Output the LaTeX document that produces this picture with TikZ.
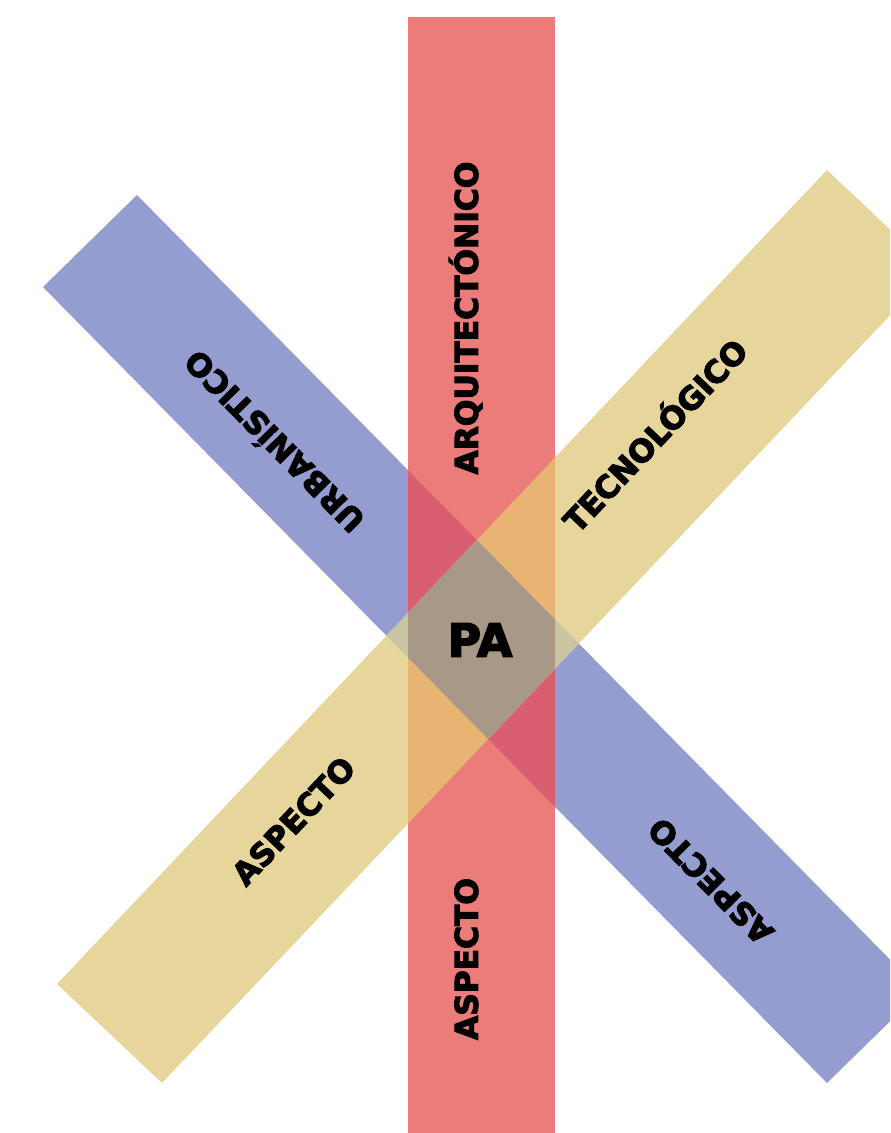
\documentclass[tikz,border=0pt]{standalone}
\usepackage{fontspec}
\newfontfamily\heavy{DejaVu Sans Bold}[FakeBold=3.5]
\definecolor{cRed}{RGB}{236,124,122}
\definecolor{cBlue}{RGB}{149,157,208}
\definecolor{cYel}{RGB}{230,214,156}
\definecolor{cRB}{RGB}{216,94,112}
\definecolor{cRY}{RGB}{232,180,116}
\definecolor{cBY}{RGB}{200,197,160}
\definecolor{cAll}{RGB}{168,152,136}
\newcommand\redPth{(r1)--(r2)--(r3)--(r4)--cycle}
\newcommand\bluePth{(b1)--(b2)--(b3)--(b4)--cycle}
\newcommand\yelPth{(y1)--(y2)--(y3)--(y4)--cycle}
\begin{document}
\begin{tikzpicture}[x=0.02cm,y=-0.02cm,
  lbl/.style={font=\heavy\fontsize{17.8}{18}\selectfont,inner sep=0pt,anchor=mid},
  big/.style={font=\heavy\fontsize{26}{27}\selectfont,inner sep=0pt}]
\useasboundingbox (0,0) rectangle (890,1133);
\clip (0,0) rectangle (890,1133);
% band corners
\coordinate (r1) at (408,17);  \coordinate (r2) at (555,17);
\coordinate (r3) at (555,1140); \coordinate (r4) at (408,1140);
\coordinate (b1) at (43,287);  \coordinate (b2) at (137,195);
\coordinate (b3) at (921,991); \coordinate (b4) at (827,1083);
\coordinate (y1) at (57,984);  \coordinate (y2) at (827,170);
\coordinate (y3) at (933,270); \coordinate (y4) at (162,1083);
% bands
\fill[cBlue] \bluePth;
\fill[cYel] \yelPth;
\fill[cRed] \redPth;
% pairwise overlaps
\begin{scope}\clip \redPth; \fill[cRB] \bluePth; \end{scope}
\begin{scope}\clip \redPth; \fill[cRY] \yelPth; \end{scope}
\begin{scope}\clip \bluePth; \fill[cBY] \yelPth; \end{scope}
\begin{scope}\clip \redPth; \clip \bluePth; \fill[cAll] \yelPth; \end{scope}
% labels
\node[big] (pa) at (480,640) {PA};
\node[lbl,rotate=90] (arq) at (474,318) {ARQUITECTÓNICO};
\node[lbl,rotate=90] (asr) at (474,959) {ASPECTO};
\node[lbl,rotate=46.6] (tec) at (661,441) {TECNOLÓGICO};
\node[lbl,rotate=46.6] (asy) at (299,826) {ASPECTO};
\node[lbl,rotate=134.6] (urb) at (280,436) {URBANÍSTICO};
\node[lbl,rotate=134.6] (asb) at (716,876) {ASPECTO};
\end{tikzpicture}
\end{document}
